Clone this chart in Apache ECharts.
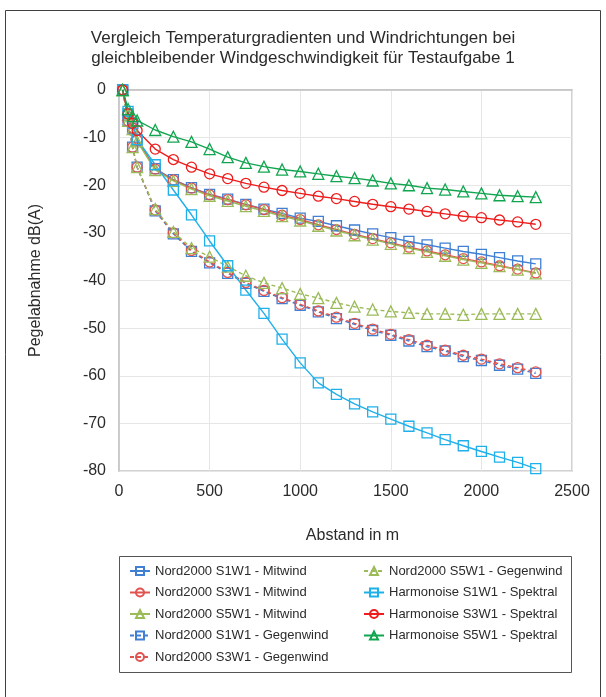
<!DOCTYPE html>
<html>
<head>
<meta charset="utf-8">
<script src="https://cdn.jsdelivr.net/npm/echarts@6/dist/echarts.min.js"></script>
<style>
  html, body { margin: 0; padding: 0; background: #fff; }
  #chart { width: 606px; height: 697px; }
</style>
</head>
<body>
<div id="chart"></div>
<script>
// Abstand in m
const dist = [20, 50, 75, 100, 200, 300, 400, 500, 600, 700, 800, 900, 1000, 1100, 1200,
  1300, 1400, 1500, 1600, 1700, 1800, 1900, 2000, 2100, 2200, 2300]

// Pegelabnahme dB(A)
const n2000S1Mit = [0, -5, -8, -10.5, -16.5, -18.8, -20.5, -21.9, -22.9, -24.0, -25.0, -25.9, -26.9,
  -27.6, -28.5, -29.4, -30.2, -31.0, -31.8, -32.5, -33.2, -33.9, -34.5, -35.2, -35.9, -36.5]
const n2000S3Mit = [0, -5, -8, -10.5, -16.6, -18.9, -20.6, -22.0, -23.0, -24.1, -25.1, -26.3, -27.2,
  -28.3, -29.3, -30.3, -31.2, -32.1, -33.0, -33.8, -34.6, -35.4, -36.1, -36.9, -37.6, -38.4]
const n2000S5Mit = [0, -5.2, -8.2, -10.8, -16.8, -19.1, -20.8, -22.2, -23.3, -24.4, -25.4, -26.5, -27.4,
  -28.5, -29.5, -30.5, -31.4, -32.3, -33.2, -34.0, -34.8, -35.6, -36.3, -37.0, -37.7, -38.5]
const n2000S1Gegen = [0, -6.5, -12, -16.2, -25.4, -30.2, -33.9, -36.3, -38.5, -40.6, -42.3, -43.8, -45.2,
  -46.6, -48.0, -49.2, -50.5, -51.5, -52.7, -53.9, -54.8, -56.0, -56.8, -57.8, -58.6, -59.5]
const n2000S3Gegen = [0, -6.5, -12, -16.2, -25.2, -30.0, -33.7, -36.1, -38.3, -40.4, -42.1, -43.6, -45.0,
  -46.4, -47.7, -49.0, -50.2, -51.3, -52.4, -53.6, -54.6, -55.7, -56.5, -57.5, -58.3, -59.2]
const n2000S5Gegen = [0, -6.5, -12, -16.2, -25.0, -29.8, -33.2, -35.0, -37.1, -39.0, -40.5, -41.6, -42.8,
  -43.7, -44.7, -45.5, -46.1, -46.5, -46.8, -47.0, -47.0, -47.2, -47.0, -47.0, -47.0, -47.0]
const harmS1 = [0, -4.5, -7, -10.4, -15.7, -21.0, -26.2, -31.7, -36.9, -42.0, -46.9, -52.3, -57.3,
  -61.5, -63.9, -65.9, -67.6, -69.1, -70.6, -72.0, -73.4, -74.7, -75.9, -77.1, -78.2, -79.5]
const harmS3 = [0, -5, -7, -8.5, -12.4, -14.6, -16.2, -17.6, -18.6, -19.6, -20.4, -21.1, -21.7,
  -22.3, -22.8, -23.4, -24.0, -24.5, -25.0, -25.5, -26.0, -26.5, -26.8, -27.3, -27.7, -28.2]
const harmS5 = [0, -4, -5.5, -6.4, -8.4, -9.8, -10.9, -12.4, -14.1, -15.3, -16.1, -16.7, -17.1,
  -17.6, -18.1, -18.5, -19.0, -19.6, -20.0, -20.6, -20.9, -21.3, -21.7, -22.1, -22.3, -22.5]

const xTicks = [0, 500, 1000, 1500, 2000, 2500]
const yTicks = [0, -10, -20, -30, -40, -50, -60, -70, -80]

const seriesDefs = [
  { name: 'Nord2000 S1W1 - Mitwind', values: n2000S1Mit, color: '#3f7fd4', symbol: 'rect', dash: 'solid' },
  { name: 'Nord2000 S3W1 - Mitwind', values: n2000S3Mit, color: '#e0534f', symbol: 'circle', dash: 'solid' },
  { name: 'Nord2000 S5W1 - Mitwind', values: n2000S5Mit, color: '#9bbb59', symbol: 'triangle', dash: 'solid' },
  { name: 'Nord2000 S1W1 - Gegenwind', values: n2000S1Gegen, color: '#3f7fd4', symbol: 'rect', dash: [4, 3] },
  { name: 'Nord2000 S3W1 - Gegenwind', values: n2000S3Gegen, color: '#e0534f', symbol: 'circle', dash: [4, 3] },
  { name: 'Nord2000 S5W1 - Gegenwind', values: n2000S5Gegen, color: '#9bbb59', symbol: 'triangle', dash: [4, 3] },
  { name: 'Harmonoise S1W1 - Spektral', values: harmS1, color: '#1fb0ea', symbol: 'rect', dash: 'solid' },
  { name: 'Harmonoise S3W1 - Spektral', values: harmS3, color: '#ee1c1c', symbol: 'circle', dash: 'solid' },
  { name: 'Harmonoise S5W1 - Spektral', values: harmS5, color: '#12a550', symbol: 'triangle', dash: 'solid' }
]

const font = 'Liberation Sans, Arial, sans-serif'
const textColor = '#2b2b2b'

const options = {
  backgroundColor: '#fff',
  title: {
    text: 'Vergleich Temperaturgradienten und Windrichtungen bei\ngleichbleibender Windgeschwindigkeit für Testaufgabe 1',
    left: 'center',
    top: 23,
    textStyle: { fontFamily: font, fontSize: 17, fontWeight: 'normal', color: textColor, lineHeight: 20 }
  },
  legend: [
    {
      data: seriesDefs.slice(0, 5).map(s => s.name),
      orient: 'vertical',
      left: 124,
      top: 559.5,
      itemGap: 8.5,
      itemWidth: 20,
      itemHeight: 10,
      textStyle: { fontFamily: font, fontSize: 13, color: textColor }
    },
    {
      data: seriesDefs.slice(5).map(s => s.name),
      orient: 'vertical',
      left: 358,
      top: 559.5,
      itemGap: 8.5,
      itemWidth: 20,
      itemHeight: 10,
      textStyle: { fontFamily: font, fontSize: 13, color: textColor }
    }
  ],
  grid: {
    left: 119,
    top: 90,
    width: 453,
    height: 381,
    show: true,
    borderColor: '#c4c4c4',
    borderWidth: 1.5
  },
  xAxis: {
    type: 'value',
    min: xTicks[0],
    max: xTicks[xTicks.length - 1],
    interval: 500,
    name: 'Abstand in m',
    nameLocation: 'middle',
    nameGap: 57,
    nameTextStyle: { fontFamily: font, fontSize: 16, color: textColor, padding: [0, 0, 0, 14] },
    axisLine: { lineStyle: { color: '#c4c4c4', width: 1.5 } },
    axisTick: { show: false },
    axisLabel: { fontFamily: font, fontSize: 16, color: textColor, margin: 13, formatter: v => String(v) },
    splitLine: { lineStyle: { color: '#e6e6e6' } }
  },
  yAxis: {
    type: 'value',
    min: yTicks[yTicks.length - 1],
    max: yTicks[0],
    interval: 10,
    name: 'Pegelabnahme dB(A)',
    nameLocation: 'middle',
    nameGap: 75,
    nameTextStyle: { fontFamily: font, fontSize: 16, color: textColor },
    axisLine: { show: true, lineStyle: { color: '#c4c4c4', width: 1.5 } },
    axisTick: { show: false },
    axisLabel: { fontFamily: font, fontSize: 16, color: textColor, margin: 13 },
    splitLine: { lineStyle: { color: '#e6e6e6' } }
  },
  graphic: [
    // outer frame
    {
      type: 'rect',
      shape: { x: 5.5, y: 10.5, width: 595, height: 700 },
      style: { fill: 'none', stroke: '#404040', lineWidth: 1 },
      silent: true
    },
    // legend box
    {
      type: 'rect',
      shape: { x: 119.5, y: 556.5, width: 452, height: 116 },
      style: { fill: 'none', stroke: '#555', lineWidth: 1 },
      silent: true
    }
  ],
  series: seriesDefs.map(s => ({
    name: s.name,
    type: 'line',
    data: dist.map((d, i) => [d, s.values[i]]),
    symbol: s.symbol,
    symbolSize: s.symbol === 'triangle' ? 11 : 10,
    showAllSymbol: true,
    smooth: false,
    lineStyle: { color: s.color, width: 1.4, type: s.dash },
    itemStyle: { color: 'rgba(255,255,255,0)', borderColor: s.color, borderWidth: 1.3 },
    emphasis: { disabled: true },
    animation: false
  }))
}

function initChart() {
  let chart = echarts.init(document.getElementById('chart'), null, { renderer: 'canvas' })
  chart.setOption(options)
  window.addEventListener('resize', () => {
    chart.resize()
  })
}
initChart()
</script>
</body>
</html>
